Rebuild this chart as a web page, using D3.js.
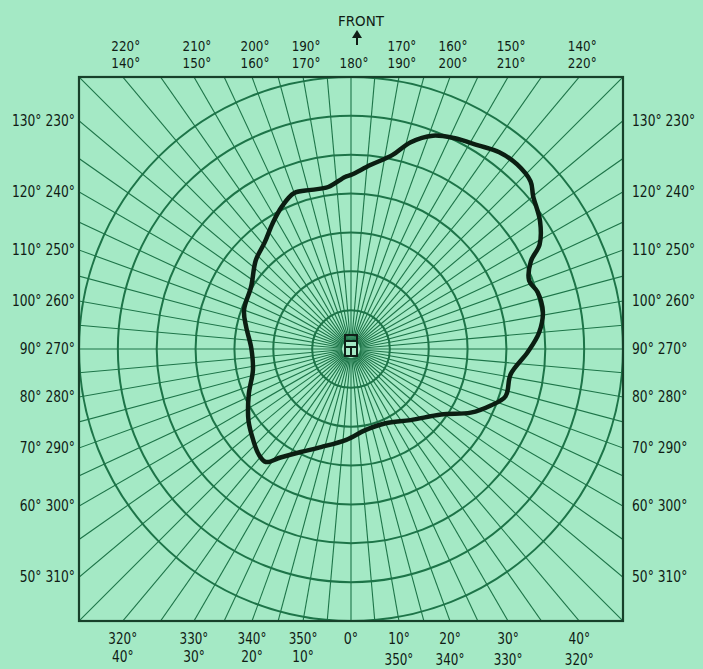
<!DOCTYPE html>
<html lang="en">
<head>
<meta charset="UTF-8">
<title>Polar pattern</title>
<script src="https://d3js.org/d3.v7.min.js"></script>
<style>
    body { margin: 0; background: #a4e9c5; }
    text.lbl {
        fill: #101c15;
        font-family: 'DejaVu Sans', sans-serif;
        font-size: 15px;
    }
    text.tu, text.tl { font-size: 14px; }
</style>
</head>
<body>
<svg width="703" height="669"></svg>
<script>
    // pattern, angle in degrees (0 = rear/bottom, 180 = front/top), radius in ring units
    const angles = [3, 17, 26, 33, 37, 41, 47, 55, 66, 78, 91, 102, 110, 122, 133, 141, 148, 154,
        160, 166, 172, 178, 180, 186, 192, 196, 201, 206, 212, 217, 222, 227, 230, 236, 241, 244,
        249, 253, 259, 265, 271, 279, 287, 292, 298, 306, 320, 335, 350];
    const values = [2.34, 2.64, 2.95, 3.33, 3.64, 3.61, 3.44, 3.22, 2.88, 2.58, 2.57, 2.76, 2.93, 3.03,
        3.35, 3.53, 3.81, 4.07, 4.27, 4.22, 4.21, 4.43, 4.48, 4.76, 5.10, 5.53, 5.88, 6.04, 6.18, 6.34,
        6.39, 6.32, 6.12, 5.87, 5.55, 5.15, 4.91, 5.02, 5.03, 4.86, 4.55, 4.16, 4.16, 3.88, 3.49, 2.87,
        2.39, 2.11, 2.12];

    const rings = [1, 2, 3, 4, 5, 6, 7];

    const topUpper = ["220°", "210°", "200°", "190°", "", "170°", "160°", "150°", "140°"];
    const topLower = [140, 150, 160, 170, 180, 190, 200, 210, 220];
    const bottomUpper = [320, 330, 340, 350, 0, 10, 20, 30, 40];
    const bottomLower = ["40°", "30°", "20°", "10°", "", "350°", "340°", "330°", "320°"];
    const sideFirst = [130, 120, 110, 100, 90, 80, 70, 60, 50];
    const sideSecond = [230, 240, 250, 260, 270, 280, 290, 300, 310];

    const cx = 351, cy = 349, R = 272;
    const green = "#1d7448";
    const svg = d3.select("svg");
    const rad = d => d * Math.PI / 180;
    const squeeze = s => s.length * 7.2;   // the print uses a narrow face

    const r = d3.scaleLinear().domain([0, 7]).range([0, R]);

    svg.append("defs").append("clipPath").attr("id", "box")
        .append("rect").attr("x", cx - R).attr("y", cy - R)
        .attr("width", 2 * R).attr("height", 2 * R);

    const g = svg.append("g").attr("clip-path", "url(#box)");

    // spokes every 5 degrees
    g.selectAll("line.spoke").data(d3.range(0, 360, 5)).enter().append("line")
        .attr("x1", d => cx - 9 * Math.sin(rad(d)))
        .attr("y1", d => cy + 9 * Math.cos(rad(d)))
        .attr("x2", d => cx - 2 * R * Math.sin(rad(d)))
        .attr("y2", d => cy + 2 * R * Math.cos(rad(d)))
        .attr("stroke", green).attr("stroke-width", 1.1);

    g.selectAll("circle.ring").data(rings).enter().append("circle")
        .attr("cx", cx).attr("cy", cy).attr("r", d => r(d))
        .attr("fill", "none").attr("stroke", green).attr("stroke-width", 2);

    svg.append("rect").attr("x", cx - R).attr("y", cy - R)
        .attr("width", 2 * R).attr("height", 2 * R)
        .attr("fill", "none").attr("stroke", "#17402a").attr("stroke-width", 2.2);

    // little mic/speaker symbol at centre
    const ic = svg.append("g").attr("transform", `translate(${cx},${cy - 4})`)
        .attr("stroke", "#102018").attr("fill", "none").attr("stroke-width", 2);
    ic.append("rect").attr("x", -6).attr("y", -10).attr("width", 12).attr("height", 21);
    ic.append("line").attr("x1", -6).attr("x2", 6).attr("y1", -4).attr("y2", -4);
    ic.append("line").attr("x1", -6).attr("x2", 6).attr("y1", 2).attr("y2", 2);
    ic.append("line").attr("x1", 0).attr("x2", 0).attr("y1", 2).attr("y2", 11);

    // pattern trace
    const pts = angles.map((a, i) => [rad(a + 180), r(values[i])]);
    svg.append("path").datum(pts)
        .attr("transform", `translate(${cx},${cy})`)
        .attr("d", d3.lineRadial().curve(d3.curveCatmullRomClosed.alpha(0.5)))
        .attr("fill", "none").attr("stroke", "#0b1e12").attr("stroke-width", 4.5)
        .attr("stroke-linejoin", "round");

    // labels
    const tx = a => cx + R * Math.tan(rad(a));
    function label(data, cls) {
        return svg.selectAll("text." + cls).data(data).enter().append("text")
            .attr("class", "lbl " + cls)
            .attr("lengthAdjust", "spacingAndGlyphs");
    }
    label(topUpper, "tu")
        .attr("text-anchor", "middle").attr("x", (d, i) => tx(topLower[i]) + 3).attr("y", 51)
        .attr("textLength", d => squeeze(d) || null).text(d => d);
    label(topLower, "tl")
        .attr("text-anchor", "middle").attr("x", d => tx(d) + 3).attr("y", 68)
        .attr("textLength", d => squeeze(d + "°")).text(d => d + "°");
    label(bottomUpper, "bu")
        .attr("text-anchor", "middle").attr("x", d => tx(d)).attr("y", 644)
        .attr("textLength", d => squeeze(d + "°")).text(d => d + "°");
    label(bottomLower, "bl")
        .attr("text-anchor", "middle").attr("x", (d, i) => tx(bottomUpper[i]))
        .attr("y", (d, i) => i > 4 ? 665 : 662)
        .attr("textLength", d => squeeze(d) || null).text(d => d);

    // side labels: narrowed with a horizontal scale so their boxes stay inside the page
    const sy = a => cy + R / Math.tan(rad(a));
    const sideText = (d, i) => d + "° " + sideSecond[i] + "°";
    svg.selectAll("text.sl").data(sideFirst).enter().append("text").attr("class", "lbl sl")
        .attr("text-anchor", "end")
        .attr("transform", d => `translate(75,${sy(d) + 5}) scale(0.82,1)`)
        .text(sideText);
    svg.selectAll("text.sr").data(sideFirst).enter().append("text").attr("class", "lbl sr")
        .attr("text-anchor", "start")
        .attr("transform", d => `translate(632,${sy(d) + 5}) scale(0.82,1)`)
        .text(sideText);

    svg.append("text").attr("class", "lbl").attr("text-anchor", "middle")
        .attr("x", 361).attr("y", 26).style("font-size", "14px")
        .attr("textLength", 46).attr("lengthAdjust", "spacingAndGlyphs").text("FRONT");
    svg.append("line").attr("x1", 357).attr("x2", 357).attr("y1", 45).attr("y2", 34)
        .attr("stroke", "#101c15").attr("stroke-width", 2);
    svg.append("path").attr("d", "M352,38 L357,30 L362,38 Z").attr("fill", "#101c15");
</script>
</body>
</html>
